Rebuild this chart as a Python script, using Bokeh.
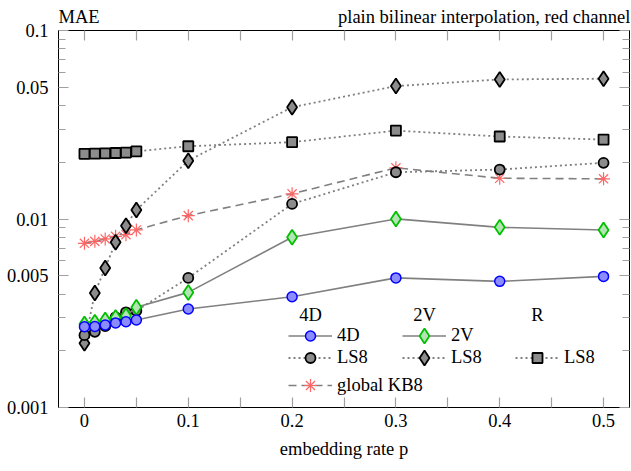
from bokeh.plotting import figure
from bokeh.models import (Range1d, LinearAxis, LogAxis, FixedTicker,
                          CustomJSTickFormatter, Label, Legend, LegendItem)
from bokeh.embed import file_html
from bokeh.resources import INLINE

# ---------------- data ----------------
p_vals = [0, 0.01, 0.02, 0.03, 0.04, 0.05, 0.1, 0.2, 0.3, 0.4, 0.5]
mae_4d = [0.00268, 0.00269, 0.00274, 0.00281, 0.00285, 0.00291, 0.00333, 0.00387, 0.00487, 0.00467, 0.00496]
mae_2v = [0.00277, 0.00283, 0.00291, 0.00300, 0.00307, 0.00340, 0.00408, 0.00800, 0.01001, 0.00903, 0.00875]
ls8_4d = [0.00242, 0.00252, 0.00270, 0.00301, 0.00320, 0.00326, 0.00487, 0.01202, 0.01770, 0.01830, 0.01986]
ls8_2v = [0.00219, 0.00405, 0.00550, 0.00752, 0.00922, 0.01117, 0.02040, 0.03920, 0.05070, 0.05500, 0.05550]
ls8_r = [0.02216, 0.02220, 0.02230, 0.02240, 0.02250, 0.02286, 0.02432, 0.02555, 0.02944, 0.02739, 0.02640]
kb8 = [0.00743, 0.00761, 0.00784, 0.00809, 0.00826, 0.00875, 0.01042, 0.01360, 0.01868, 0.01645, 0.01633]

x_ticks = [0, 0.1, 0.2, 0.3, 0.4, 0.5]
x_minor = [0.05, 0.15, 0.25, 0.35, 0.45]
y_ticks = [0.001, 0.005, 0.01, 0.05, 0.1]
y_minor = [0.002, 0.003, 0.004, 0.006, 0.007, 0.008, 0.009,
           0.02, 0.03, 0.04, 0.06, 0.07, 0.08, 0.09]

title_text = "plain bilinear interpolation, red channel"
y_label = "MAE"
x_label = "embedding rate p"
headers = ["4D", "2V", "R"]

FONT = "Liberation Serif"
FS = "18.5px"
TICK_COL = "#a0a0a0"
LINE_COL = "#808080"

W, H = 630, 470
ML, MR, MT, MB = 58, 1, 30, 63

p = figure(width=W, height=H,
           x_range=Range1d(-0.025, 0.525), y_range=Range1d(0.001, 0.1),
           y_axis_type="log", output_backend="svg", toolbar_location=None,
           min_border_left=ML, min_border_right=MR, min_border_top=MT,
           min_border_bottom=MB)
p.grid.visible = False
p.outline_line_color = "black"
p.outline_line_width = 1
p.background_fill_color = "white"
p.border_fill_color = "white"

label_fmt = CustomJSTickFormatter(code="return tick.toString();")
empty_fmt = CustomJSTickFormatter(code="return '';")


def style_axis(ax, ticks, minor, major_len, minor_len, show_labels):
    ax.ticker = FixedTicker(ticks=ticks, minor_ticks=minor)
    ax.major_tick_in = major_len
    ax.major_tick_out = 0
    ax.minor_tick_in = minor_len
    ax.minor_tick_out = 0
    ax.major_tick_line_color = TICK_COL
    ax.minor_tick_line_color = TICK_COL
    ax.major_tick_line_width = 1.2
    ax.minor_tick_line_width = 1.2
    ax.axis_line_color = "black"
    if show_labels:
        ax.formatter = label_fmt
        ax.major_label_text_font = FONT
        ax.major_label_text_font_size = FS
        ax.major_label_text_color = "black"
    else:
        ax.formatter = empty_fmt
        ax.major_label_text_font_size = "1px"
        ax.major_label_text_alpha = 0
        ax.major_label_standoff = 0


xax = p.xaxis[0]
style_axis(xax, x_ticks, x_minor, 10, 10, True)
xax.major_label_standoff = 6
xax.axis_label = x_label
xax.axis_label_text_font = FONT
xax.axis_label_text_font_size = FS
xax.axis_label_text_font_style = "normal"
xax.axis_label_text_color = "black"
xax.axis_label_standoff = 9

style_axis(p.yaxis[0], y_ticks, y_minor, 10, 7, True)
p.yaxis[0].major_label_standoff = 10

top_ax = LinearAxis()
style_axis(top_ax, x_ticks, x_minor, 10, 10, False)
p.add_layout(top_ax, "above")
right_ax = LogAxis()
style_axis(right_ax, y_ticks, y_minor, 10, 7, False)
p.add_layout(right_ax, "right")

# header texts (MAE on the left, title on the right) carried by an
# extra top axis with two labelled ticks and no tick marks
head_ax = LinearAxis(
    ticker=FixedTicker(ticks=[-0.0052, 0.385], minor_ticks=[]),
    formatter=CustomJSTickFormatter(args=dict(labels=[y_label, title_text]),
                                    code="return labels[index];"),
    axis_line_color=None, major_tick_line_color=None, minor_tick_line_color=None,
    major_tick_in=0, major_tick_out=0, minor_tick_in=0, minor_tick_out=0,
    major_label_standoff=4, major_label_text_font=FONT,
    major_label_text_font_size=FS, major_label_text_color="black")
p.add_layout(head_ax, "above")

# ---------------- series ----------------
kb8_line = p.line(p_vals, kb8, line_color=LINE_COL, line_width=1.6, line_dash="8 5")
kb8_mark = p.scatter(p_vals, kb8, marker="asterisk", size=13, line_color="#ff6666", line_width=1.2)

r_line = p.line(p_vals, ls8_r, line_color=LINE_COL, line_width=1.8, line_dash="2 3")
r_mark = p.scatter(p_vals, ls8_r, marker="square", size=10, fill_color="#8c8c8c",
                   line_color="black", line_width=1.8)

h_line = p.line(p_vals, ls8_2v, line_color=LINE_COL, line_width=1.8, line_dash="2 3")
h_mark = p.scatter(p_vals, ls8_2v, marker="diamond", size=15, fill_color="#8c8c8c",
                   line_color="black", line_width=1.8)

c_line = p.line(p_vals, ls8_4d, line_color=LINE_COL, line_width=1.8, line_dash="2 3")
c_mark = p.scatter(p_vals, ls8_4d, marker="circle", size=10, fill_color="#8c8c8c",
                   line_color="black", line_width=1.8)

g_line = p.line(p_vals, mae_2v, line_color=LINE_COL, line_width=1.6)
g_mark = p.scatter(p_vals, mae_2v, marker="diamond", size=15, fill_color="#b4e4b4",
                   line_color="#00c000", line_width=1.8)

b_line = p.line(p_vals, mae_4d, line_color=LINE_COL, line_width=1.6)
b_mark = p.scatter(p_vals, mae_4d, marker="circle", size=10, fill_color="#8c8cff",
                   line_color="#0000ff", line_width=1.5)

# ---------------- legend ----------------
FRAME_BOTTOM = H - MB  # canvas y of frame bottom


def add_leg(text, renderers, x_off, center_y, gh):
    leg = Legend(items=[LegendItem(label=text, renderers=renderers)],
                 location=(x_off, FRAME_BOTTOM - (center_y + gh / 2.0)),
                 glyph_width=44, glyph_height=int(gh), label_standoff=5,
                 label_height=20, padding=0, margin=0, spacing=0,
                 border_line_alpha=0, background_fill_alpha=0,
                 label_text_font=FONT, label_text_font_size=FS,
                 label_text_color="black")
    p.add_layout(leg)


col_x = [230, 344, 457]
add_leg("4D", [b_line, b_mark], col_x[0], 335, 25)
add_leg("2V", [g_line, g_mark], col_x[1], 335, 37)
add_leg("LS8", [c_line, c_mark], col_x[0], 357, 25)
add_leg("LS8", [h_line, h_mark], col_x[1], 357, 37)
add_leg("LS8", [r_line, r_mark], col_x[2], 357, 25)
add_leg("global KB8", [kb8_line, kb8_mark], col_x[0], 385, 32)

for hx, ht in zip([c + 22 for c in col_x], headers):
    p.add_layout(Label(x=hx, y=FRAME_BOTTOM - 314, x_units="screen", y_units="screen",
                       text=ht, text_font=FONT, text_font_size=FS, text_color="black",
                       text_align="center", text_baseline="middle"))

open("out.html", "w").write(file_html(p, INLINE))
